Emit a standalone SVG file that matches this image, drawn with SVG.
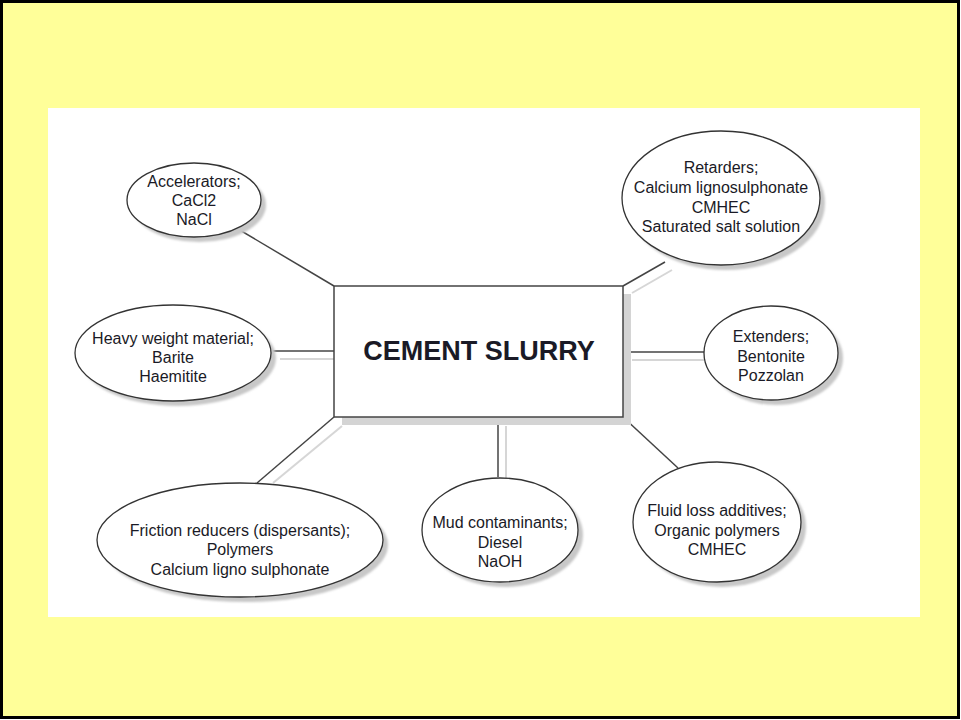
<svg xmlns="http://www.w3.org/2000/svg" width="961" height="720" viewBox="0 0 961 720">
<defs>
<filter id="blur" x="-10%" y="-10%" width="120%" height="120%"><feGaussianBlur stdDeviation="1.2"/></filter>
</defs>
<style>
.ell{fill:#fff;stroke:#333;stroke-width:1.3}
.sh{fill:#c8c8c8;filter:url(#blur)}
.ln{stroke:#444;stroke-width:1.5;fill:none}
.lt{stroke:#d6d6d6;stroke-width:2;fill:none}
.t{font-family:"Liberation Sans",Arial,sans-serif;font-size:16px;fill:#1a1a26;text-anchor:middle}
.title{font-family:"Liberation Sans",Arial,sans-serif;font-size:27px;font-weight:bold;fill:#1a1a26;text-anchor:middle}
</style>
<rect x="1.5" y="1.5" width="957" height="716" fill="#ffff99" stroke="#000" stroke-width="3"/>
<rect x="48" y="108" width="872" height="509" fill="#fff"/>
<g id="connectors">
<line class="lt" x1="632" y1="293" x2="672" y2="270"/>
<line class="lt" x1="280" y1="359" x2="334" y2="359"/>
<line class="lt" x1="632" y1="360" x2="704" y2="360"/>
<line class="lt" x1="342" y1="426" x2="273" y2="483"/>
<line class="lt" x1="506" y1="426" x2="506" y2="478"/>
<line class="ln" x1="238" y1="229" x2="334" y2="286"/>
<line class="ln" x1="623" y1="286" x2="665" y2="262"/>
<line class="ln" x1="271" y1="351" x2="334" y2="351"/>
<line class="ln" x1="623" y1="352" x2="704" y2="352"/>
<line class="ln" x1="334" y1="417" x2="257" y2="483"/>
<line class="ln" x1="498" y1="417" x2="498" y2="477"/>
<line class="ln" x1="623" y1="417" x2="678" y2="468"/>
</g>
<g id="cement-slurry">
<rect x="342" y="294" width="289" height="131" fill="#d4d4d4"/>
<rect x="334" y="286" width="289" height="131" fill="#fff" stroke="#444" stroke-width="1.5"/>
<text class="title" x="479" y="360">CEMENT SLURRY</text>
</g>
<g id="accelerators">
<ellipse class="sh" cx="199" cy="205" rx="67" ry="37"/>
<ellipse class="ell" cx="194" cy="200" rx="67" ry="37"/>
<text class="t" x="194" y="187">Accelerators;</text>
<text class="t" x="194" y="206">CaCl2</text>
<text class="t" x="194" y="225">NaCl</text>
</g>
<g id="retarders">
<ellipse class="sh" cx="726" cy="203" rx="99" ry="67"/>
<ellipse class="ell" cx="721" cy="198" rx="99" ry="67"/>
<text class="t" x="721" y="173">Retarders;</text>
<text class="t" x="721" y="193">Calcium lignosulphonate</text>
<text class="t" x="721" y="213">CMHEC</text>
<text class="t" x="721" y="232">Saturated salt solution</text>
</g>
<g id="heavy-weight">
<ellipse class="sh" cx="178" cy="358" rx="98" ry="48"/>
<ellipse class="ell" cx="173" cy="353" rx="98" ry="48"/>
<text class="t" x="173" y="344">Heavy weight material;</text>
<text class="t" x="173" y="363">Barite</text>
<text class="t" x="173" y="382">Haemitite</text>
</g>
<g id="extenders">
<ellipse class="sh" cx="776" cy="358" rx="67" ry="47"/>
<ellipse class="ell" cx="771" cy="353" rx="67" ry="47"/>
<text class="t" x="771" y="342">Extenders;</text>
<text class="t" x="771" y="362">Bentonite</text>
<text class="t" x="771" y="381">Pozzolan</text>
</g>
<g id="friction-reducers">
<ellipse class="sh" cx="245" cy="545" rx="143" ry="57"/>
<ellipse class="ell" cx="240" cy="540" rx="143" ry="57"/>
<text class="t" x="240" y="536">Friction reducers (dispersants);</text>
<text class="t" x="240" y="555">Polymers</text>
<text class="t" x="240" y="575">Calcium ligno sulphonate</text>
</g>
<g id="mud-contaminants">
<ellipse class="sh" cx="505" cy="535" rx="78" ry="52"/>
<ellipse class="ell" cx="500" cy="530" rx="78" ry="52"/>
<text class="t" x="500" y="528">Mud contaminants;</text>
<text class="t" x="500" y="548">Diesel</text>
<text class="t" x="500" y="567">NaOH</text>
</g>
<g id="fluid-loss">
<ellipse class="sh" cx="722" cy="527" rx="84" ry="60"/>
<ellipse class="ell" cx="717" cy="522" rx="84" ry="60"/>
<text class="t" x="717" y="516">Fluid loss additives;</text>
<text class="t" x="717" y="536">Organic polymers</text>
<text class="t" x="717" y="555">CMHEC</text>
</g>
</svg>
